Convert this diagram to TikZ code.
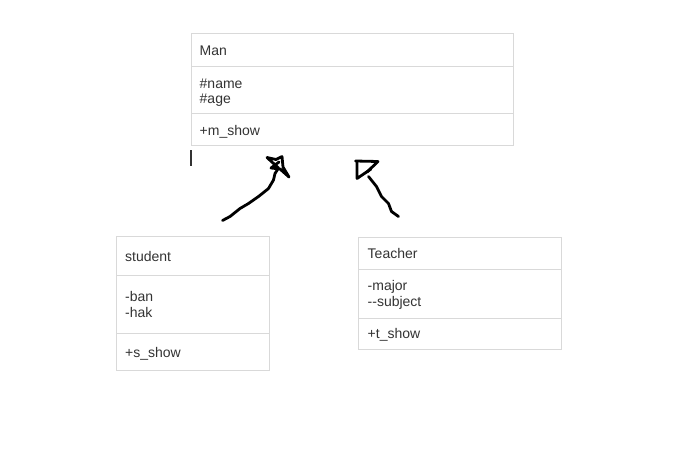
\documentclass[tikz,border=0pt]{standalone}
\usepackage{fontspec}
\setmainfont{Liberation Sans}
\definecolor{txt}{HTML}{333333}
\definecolor{bord}{HTML}{D9D9D9}
\begin{document}
\begin{tikzpicture}[x=1pt,y=-1pt,
  box/.style={draw=bord,line width=1pt,rectangle,inner sep=0pt,anchor=north west},
  sep/.style={draw=bord,line width=1pt},
  lbl/.style={anchor=base west,inner sep=0pt,text=txt,font=\fontsize{14pt}{16pt}\selectfont},
  ink/.style={draw=black,line width=2.8pt,line cap=round,line join=round}]
\useasboundingbox[fill=white] (0,0) rectangle (677,469);
% Man
\node[box,minimum width=322pt,minimum height=112pt] (man) at (191,33) {};
\draw[sep] (man.west |- 0,66) -- (man.east |- 0,66);
\draw[sep] (man.west |- 0,113) -- (man.east |- 0,113);
\node[lbl] (mantitle) at (199.5,55) {Man};
\node[lbl] (manname) at (199.5,88) {\#name};
\node[lbl] (manage) at (199.5,103.5) {\#age};
\node[lbl] (manshow) at (199.5,135) {+m\_show};
% student
\node[box,minimum width=153pt,minimum height=134pt] (stu) at (116,236) {};
\draw[sep] (stu.west |- 0,275) -- (stu.east |- 0,275);
\draw[sep] (stu.west |- 0,333) -- (stu.east |- 0,333);
\node[lbl] (stutitle) at (125,261) {student};
\node[lbl] (stuban) at (125,301) {-ban};
\node[lbl] (stuhak) at (125,317) {-hak};
\node[lbl] (stushow) at (125,357) {+s\_show};
% Teacher
\node[box,minimum width=203pt,minimum height=112pt] (tea) at (358,237) {};
\draw[sep] (tea.west |- 0,269) -- (tea.east |- 0,269);
\draw[sep] (tea.west |- 0,318) -- (tea.east |- 0,318);
\node[lbl] (teatitle) at (367.5,258.5) {Teacher};
\node[lbl] (teamajor) at (367.5,290.5) {-major};
\node[lbl] (teasubj) at (367.5,306) {-{}-subject};
\node[lbl] (teashow) at (367.5,338.5) {+t\_show};
% text cursor
\coordinate (curA) at (191,150);
\coordinate (curB) at (191,166);
\draw[txt,line width=1.4pt] (curA) -- (curB);
% hand-drawn arrow (student -> Man)
\coordinate (s1) at (222.5,220.5);
\coordinate (s2) at (278.5,168);
\draw[ink] (s1) -- (230,216.5) -- (240,208.5) -- (248.5,203.5) -- (258.5,196.5)
  -- (268.5,188.5) -- (273.5,180) -- (275,173.5) -- (s2);
\draw[ink] (s2) -- (267,157.5) -- (276,159.5) -- (282,156.5) -- (283,167) -- (289,177) -- (280,169) -- (271,168) -- (279,162);
% hand-drawn arrow (Teacher -> Man)
\coordinate (t1) at (398.5,216.5);
\coordinate (t2) at (368.5,176.5);
\draw[ink] (t1) -- (391.5,211.5) -- (388.5,203.5) -- (381.5,196.5) -- (376.5,186.5) -- (t2);
\draw[ink] (355.5,161) -- (378,161.5) -- (367,172) ;
\draw[ink] (357,162) -- (357,178.5) -- (371,169);
\end{tikzpicture}
\end{document}
